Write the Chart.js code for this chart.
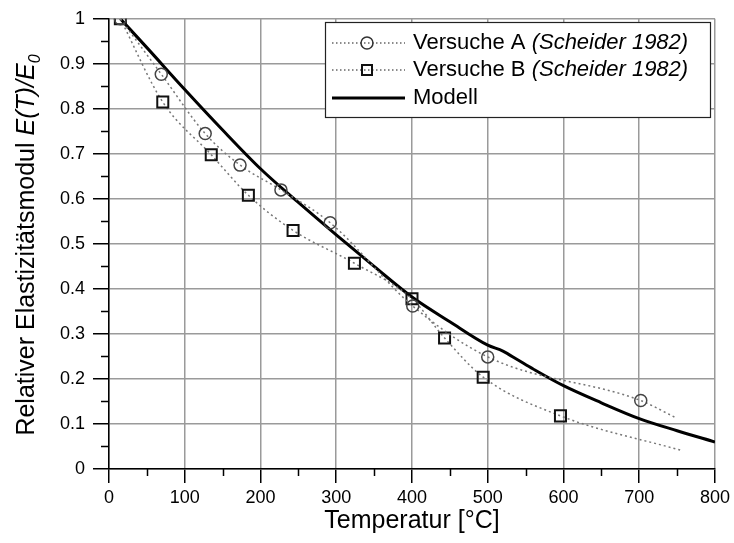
<!DOCTYPE html>
<html>
<head>
<meta charset="utf-8">
<script src="https://cdn.jsdelivr.net/npm/chart.js@4.4.1/dist/chart.umd.min.js"></script>
<style>
html, body { margin: 0; padding: 0; background: #fff; }
#wrap { width: 734px; height: 543px; }
</style>
</head>
<body>
<div id="wrap"><canvas id="chart" width="734" height="543"></canvas></div>
<script>
// ================= DATA =================
// Versuche A (circles)
const tempA = [15, 69, 127, 173, 227, 292, 401, 500, 702];
const eA = [1.0, 0.877, 0.745, 0.675, 0.62, 0.547, 0.362, 0.249, 0.152];
const endA = [747, 0.115]; // end of dotted curve

// Versuche B (squares)
const tempB = [15, 71, 135, 184, 243, 324, 400, 443, 494, 596];
const eB = [1.0, 0.815, 0.698, 0.608, 0.53, 0.457, 0.378, 0.291, 0.204, 0.118];
const endB = [754, 0.042];

// Modell
const tempM = [15, 50, 100, 150, 200, 250, 300, 350, 400, 450, 500, 520, 540, 560, 600, 650, 700, 750, 800];
const eM = [1.0, 0.936, 0.843, 0.753, 0.667, 0.592, 0.52, 0.45, 0.382, 0.327, 0.275, 0.262, 0.242, 0.222, 0.185, 0.147, 0.112, 0.085, 0.06];

// axes
const xTicks = [0, 100, 200, 300, 400, 500, 600, 700, 800];
const xMinor = [50, 150, 250, 350, 450, 550, 650, 750];
const yTicks = [0, 0.1, 0.2, 0.3, 0.4, 0.5, 0.6, 0.7, 0.8, 0.9, 1];
const yTickLabels = ["0", "0.1", "0.2", "0.3", "0.4", "0.5", "0.6", "0.7", "0.8", "0.9", "1"];
const yMinor = [0.05, 0.15, 0.25, 0.35, 0.45, 0.55, 0.65, 0.75, 0.85, 0.95];

const legendNames = ["Versuche A", "Versuche B", "Modell"];
const legendNotes = ["(Scheider 1982)", "(Scheider 1982)", ""];

const FONT = "'Liberation Sans', Arial, sans-serif";

function pts(xs, ys) {
    return xs.map((x, i) => ({ x: x, y: ys[i] }));
}

// ================= PLUGINS =================
const minorTicks = {
    id: "minorTicks",
    afterDraw(chart) {
        const ctx = chart.ctx;
        const xs = chart.scales.x, ys = chart.scales.y;
        const a = chart.chartArea;
        ctx.save();
        ctx.strokeStyle = "#000";
        ctx.lineWidth = 1.5;
        ctx.beginPath();
        xMinor.forEach(v => {
            const px = Math.round(xs.getPixelForValue(v)) + 0.5;
            ctx.moveTo(px, a.bottom);
            ctx.lineTo(px, a.bottom + 7);
        });
        yMinor.forEach(v => {
            const py = Math.round(ys.getPixelForValue(v)) + 0.5;
            ctx.moveTo(a.left, py);
            ctx.lineTo(a.left - 8, py);
        });
        ctx.stroke();
        ctx.restore();
    }
};

const yTitle = {
    id: "yTitle",
    afterDraw(chart) {
        const ctx = chart.ctx;
        const parts = [
            { t: "Relativer Elastizitätsmodul ", f: "25px " + FONT, dy: 0 },
            { t: "E(T)/E", f: "italic 25px " + FONT, dy: 0 },
            { t: "0", f: "italic 16px " + FONT, dy: 6 }
        ];
        ctx.save();
        let total = 0;
        parts.forEach(p => { ctx.font = p.f; p.w = ctx.measureText(p.t).width; total += p.w; });
        ctx.translate(34, 245);
        ctx.rotate(-Math.PI / 2);
        ctx.fillStyle = "#000";
        ctx.textBaseline = "alphabetic";
        let x = -total / 2;
        parts.forEach(p => {
            ctx.font = p.f;
            ctx.fillText(p.t, x, p.dy);
            x += p.w;
        });
        ctx.restore();
    }
};

const boxLegend = {
    id: "boxLegend",
    afterDraw(chart) {
        const ctx = chart.ctx;
        ctx.save();
        ctx.fillStyle = "#fff";
        ctx.fillRect(325, 22, 386, 96);
        ctx.strokeStyle = "#222";
        ctx.lineWidth = 1.2;
        ctx.strokeRect(325.5, 22.5, 385, 95);

        const rows = [43, 70, 98];
        rows.forEach((y, i) => {
            // sample line
            ctx.beginPath();
            if (i < 2) {
                ctx.strokeStyle = "#666";
                ctx.lineWidth = 1.3;
                ctx.setLineDash([1.5, 2.5]);
            } else {
                ctx.strokeStyle = "#000";
                ctx.lineWidth = 3;
                ctx.setLineDash([]);
            }
            ctx.moveTo(332, y);
            ctx.lineTo(405, y);
            ctx.stroke();
            ctx.setLineDash([]);
            if (i === 0) {
                ctx.beginPath();
                ctx.strokeStyle = "#333";
                ctx.lineWidth = 1.5;
                ctx.arc(367, y, 6, 0, Math.PI * 2);
                ctx.stroke();
            } else if (i === 1) {
                ctx.strokeStyle = "#111";
                ctx.lineWidth = 2;
                ctx.strokeRect(362, y - 5, 10, 10);
            }
            // text
            ctx.fillStyle = "#000";
            ctx.textBaseline = "middle";
            ctx.font = "22px " + FONT;
            ctx.fillText(legendNames[i], 413, y);
            if (legendNotes[i]) {
                const w = ctx.measureText(legendNames[i] + " ").width;
                ctx.font = "italic 22px " + FONT;
                ctx.fillText(legendNotes[i], 413 + w, y);
            }
        });
        ctx.restore();
    }
};

// ================= CHART =================
const dotted = {
    borderColor: "#777",
    borderWidth: 1.5,
    borderDash: [2, 3],
    cubicInterpolationMode: "monotone",
    fill: false
};

new Chart(document.getElementById("chart"), {
    type: "scatter",
    data: {
        datasets: [
            Object.assign({
                label: "Versuche A",
                data: pts(tempA.concat([endA[0]]), eA.concat([endA[1]])),
                showLine: true,
                pointStyle: "circle",
                pointRadius: tempA.map(() => 6).concat([0]),
                pointBorderColor: "#444",
                pointBorderWidth: 1.5,
                pointBackgroundColor: "rgba(0,0,0,0)"
            }, dotted),
            Object.assign({
                label: "Versuche B",
                data: pts(tempB.concat([endB[0]]), eB.concat([endB[1]])),
                showLine: true,
                pointStyle: "rect",
                pointRadius: tempB.map(() => 7.8).concat([0]),
                pointBorderColor: "#111",
                pointBorderWidth: 2,
                pointBackgroundColor: "rgba(0,0,0,0)"
            }, dotted),
            {
                label: "Modell",
                data: pts(tempM, eM),
                showLine: true,
                borderColor: "#000",
                borderWidth: 3,
                pointRadius: 0,
                cubicInterpolationMode: "monotone",
                fill: false
            }
        ]
    },
    options: {
        responsive: false,
        animation: false,
        layout: { padding: { top: 15, right: 18, left: 0, bottom: 0 } },
        plugins: {
            legend: { display: false },
            tooltip: { enabled: false }
        },
        scales: {
            x: {
                type: "linear",
                min: 0,
                max: 800,
                afterBuildTicks: s => { s.ticks = xTicks.map(v => ({ value: v })); },
                afterFit: s => { s.height = 74; },
                ticks: {
                    color: "#000",
                    font: { family: FONT, size: 18 },
                    padding: 4,
                    maxRotation: 0,
                    autoSkip: false
                },
                grid: {
                    color: "#9a9a9a",
                    lineWidth: 1.5,
                    tickColor: "#000",
                    tickLength: 14,
                    tickWidth: 1.5
                },
                border: { color: "#000", width: 1.5 },
                title: {
                    display: true,
                    text: "Temperatur [°C]",
                    color: "#000",
                    font: { family: FONT, size: 25 },
                    padding: { top: 0, bottom: 7 }
                }
            },
            y: {
                type: "linear",
                min: 0,
                max: 1,
                afterBuildTicks: s => { s.ticks = yTicks.map(v => ({ value: v })); },
                afterFit: s => { s.width = 109; },
                ticks: {
                    color: "#000",
                    font: { family: FONT, size: 18 },
                    padding: 8,
                    autoSkip: false,
                    callback: (v, i) => yTickLabels[i]
                },
                grid: {
                    color: "#9a9a9a",
                    lineWidth: 1.5,
                    tickColor: "#000",
                    tickLength: 16,
                    tickWidth: 1.5
                },
                border: { color: "#000", width: 1.5 }
            }
        }
    },
    plugins: [minorTicks, yTitle, boxLegend]
});
</script>
</body>
</html>
